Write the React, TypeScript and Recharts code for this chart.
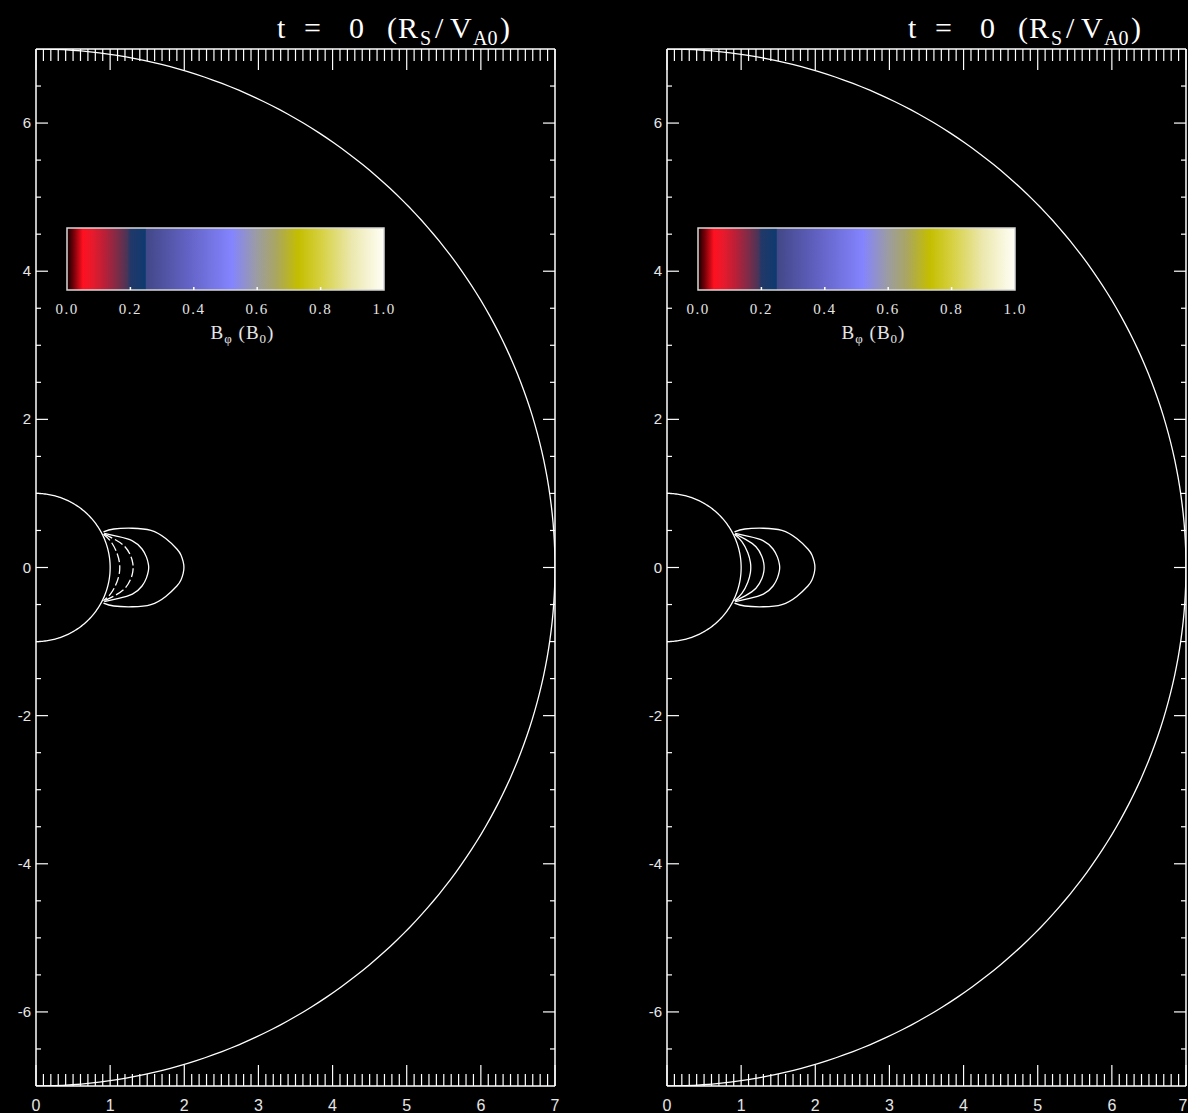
import React from 'react';
import { ComposedChart, Line, Bar, XAxis, YAxis } from 'recharts';

// axis ticks and labels
const X_MAJOR = [0, 1, 2, 3, 4, 5, 6, 7];
const X_TICK_LABELS = ['0', '1', '2', '3', '4', '5', '6', '7'];
const Y_MAJOR = [-6, -4, -2, 0, 2, 4, 6];
const Y_TICK_LABELS = ['-6', '-4', '-2', '0', '2', '4', '6'];

// radii (R_S) of the solar surface and the outer boundary
const SHELL_RADII = [1, 7];

// closed field lines above the surface, [x, y] in R_S
const LOOP_OUTER = [
  [0.91, 0.48], [1.05, 0.52], [1.3, 0.53], [1.55, 0.5], [1.75, 0.39], [1.9, 0.25], [1.955, 0.17],
  [1.985, 0.08], [1.995, 0], [1.985, -0.08], [1.955, -0.17], [1.9, -0.25], [1.75, -0.39],
  [1.55, -0.5], [1.3, -0.53], [1.05, -0.52], [0.91, -0.48],
];
const LOOP_SECOND = [
  [0.92, 0.46], [1.1, 0.42], [1.3, 0.36], [1.43, 0.25], [1.49, 0.14], [1.515, 0.05], [1.52, 0],
  [1.515, -0.05], [1.49, -0.14], [1.43, -0.25], [1.3, -0.36], [1.1, -0.42], [0.92, -0.46],
];
const LOOP_THIRD = [
  [0.92, 0.45], [1.06, 0.38], [1.2, 0.28], [1.28, 0.15], [1.305, 0.06], [1.31, 0],
  [1.305, -0.06], [1.28, -0.15], [1.2, -0.28], [1.06, -0.38], [0.92, -0.45],
];
const LOOP_INNER = [
  [0.91, 0.45], [1.01, 0.35], [1.09, 0.2], [1.125, 0.07], [1.13, 0],
  [1.125, -0.07], [1.09, -0.2], [1.01, -0.35], [0.91, -0.45],
];

// colour bar for B_phi
const COLORBAR_TICKS = [0, 0.2, 0.4, 0.6, 0.8, 1.0];
const COLORBAR_LABELS = ['0.0', '0.2', '0.4', '0.6', '0.8', '1.0'];
const COLORBAR_STOPS: [number, string][] = [
  [0.0, '#100000'],
  [0.02, '#700008'],
  [0.05, '#ff1020'],
  [0.08, '#e81a2c'],
  [0.12, '#b82038'],
  [0.16, '#7c2c48'],
  [0.19, '#4a3458'],
  [0.2, '#223868'],
  [0.247, '#0e3a70'],
  [0.25, '#424888'],
  [0.38, '#6262c4'],
  [0.52, '#8484ff'],
  [0.6, '#9c9ca2'],
  [0.66, '#aaa660'],
  [0.73, '#c4be00'],
  [0.8, '#d6d040'],
  [0.9, '#ece8b0'],
  [1.0, '#fffff6'],
];
const COLORBAR_ROW = [{ name: 'bphi', value: 1 }];

const CHART_H = 1113;
const PLOT_LEFT = 36;
const PLOT_W = 519;
const WHITE = '#ffffff';
const LABEL = '#e6e6e6';
const AXIS_LINE = { stroke: WHITE, strokeWidth: 1.5 };

const X_TICKS = Array.from({ length: 71 }, (_, i) => i / 10);
const Y_TICKS = Array.from({ length: 27 }, (_, i) => (i - 13) / 2);

const toPoints = (arr: number[][]) => arr.map(([x, y]) => ({ x, y }));

// semicircle of radius r on the x >= 0 side
const arc = (r: number) =>
  Array.from({ length: 181 }, (_, i) => {
    const a = ((90 - i) * Math.PI) / 180;
    return { x: r * Math.cos(a), y: r * Math.sin(a) };
  });

const XTick = (props: any) => {
  const { x, y, payload, side, maxX } = props;
  const v = payload.value;
  const idx = X_MAJOR.indexOf(v);
  const len = idx >= 0 ? 21 : 12;
  if (side === 'top') {
    return <line x1={x} y1={y} x2={x} y2={y + len} stroke={WHITE} strokeWidth={1.2} />;
  }
  return (
    <g>
      <line x1={x} y1={y} x2={x} y2={y - len} stroke={WHITE} strokeWidth={1.2} />
      {idx >= 0 && (
        <text x={Math.min(x, maxX)} y={y + 25} textAnchor="middle" fill={LABEL} fontSize={16}
          fontFamily="Liberation Sans">
          {X_TICK_LABELS[idx]}
        </text>
      )}
    </g>
  );
};

const YTick = (props: any) => {
  const { x, y, payload, side } = props;
  const v = payload.value;
  const idx = Y_MAJOR.indexOf(v);
  const len = idx >= 0 ? 12 : 5;
  if (side === 'right') {
    return <line x1={x} y1={y} x2={x - len} y2={y} stroke={WHITE} strokeWidth={1.2} />;
  }
  return (
    <g>
      <line x1={x} y1={y} x2={x + len} y2={y} stroke={WHITE} strokeWidth={1.2} />
      {idx >= 0 && (
        <text x={x - 5} y={y + 5} textAnchor="end" fill={LABEL} fontSize={15} fontFamily="Liberation Sans">
          {Y_TICK_LABELS[idx]}
        </text>
      )}
    </g>
  );
};

const CbTick = (props: any) => {
  const { x, y, payload, side } = props;
  const v = payload.value;
  const idx = COLORBAR_TICKS.indexOf(v);
  const inner = v > 0 && v < 1;
  if (side === 'top') {
    return inner ? <line x1={x} y1={y} x2={x} y2={y + 3} stroke={WHITE} strokeWidth={1.5} /> : <g />;
  }
  return (
    <g>
      {inner && <line x1={x} y1={y} x2={x} y2={y - 3} stroke={WHITE} strokeWidth={1.5} />}
      <text x={x} y={y + 24} textAnchor="middle" fill={LABEL} fontSize={15} letterSpacing={1.5}
        fontFamily="Liberation Serif">
        {COLORBAR_LABELS[idx]}
      </text>
    </g>
  );
};

const BphiLabel = (props: any) => {
  const vb = props.viewBox || { x: 0, y: 0, width: 0 };
  const cx = vb.x + vb.width / 2 + 17;
  return (
    <text x={cx} y={vb.y + 49} textAnchor="middle" fill={LABEL} fontSize={19} letterSpacing={1}
      fontFamily="Liberation Serif">
      B<tspan fontSize={13} dy={4}>φ</tspan>
      <tspan dy={-4}>{'  (B'}</tspan>
      <tspan fontSize={13} dy={4}>0</tspan>
      <tspan dy={-4}>)</tspan>
    </text>
  );
};

function Colorbar({ id }: { id: string }) {
  return (
    <div style={{ position: 'absolute', left: 40, top: 200 }}>
      <ComposedChart layout="vertical" width={380} height={160} data={COLORBAR_ROW}
        margin={{ top: 27, right: 36, bottom: 30, left: 27 }} barCategoryGap={0}>
        <defs>
          <linearGradient id={id} x1="0" y1="0" x2="1" y2="0">
            {COLORBAR_STOPS.map(([o, c]) => (
              <stop key={o} offset={o} stopColor={c} />
            ))}
          </linearGradient>
        </defs>
        <XAxis xAxisId="b" orientation="bottom" type="number" domain={[0, 1]} ticks={COLORBAR_TICKS}
          interval={0} height={40} tickSize={0} tickMargin={0} tickLine={false} axisLine={false}
          tick={(p: any) => <CbTick {...p} side="bottom" />} label={<BphiLabel />} />
        <XAxis xAxisId="t" orientation="top" type="number" domain={[0, 1]} ticks={COLORBAR_TICKS}
          interval={0} height={1} tickSize={0} tickMargin={0} tickLine={false} axisLine={false}
          tick={(p: any) => <CbTick {...p} side="top" />} />
        <YAxis type="category" dataKey="name" hide />
        <Bar xAxisId="b" dataKey="value" fill={`url(#${id})`} stroke="#d8d8d8" strokeWidth={1.5}
          isAnimationActive={false} />
      </ComposedChart>
    </div>
  );
}

function Title({ width }: { width: number }) {
  const sub = { fontSize: 20 };
  return (
    <svg width={width} height={49} style={{ position: 'absolute', left: 0, top: 0 }}>
      <g fill={WHITE} fontFamily="Liberation Serif" fontSize={30}>
        <text x={277} y={38}>t</text>
        <text x={304} y={38}>=</text>
        <text x={349} y={38}>0</text>
        <text x={387} y={38}>(</text>
        <text x={398} y={38}>R</text>
        <text x={420} y={45} {...sub}>S</text>
        <text x={435} y={38}>/</text>
        <text x={450} y={38}>V</text>
        <text x={473} y={45} {...sub}>A0</text>
        <text x={500} y={38}>)</text>
      </g>
    </svg>
  );
}

const LOOPS = [LOOP_OUTER, LOOP_SECOND, LOOP_THIRD, LOOP_INNER];

function Panel({ left, width, broken, id }: { left: number; width: number; broken: boolean; id: string }) {
  const rightW = width - PLOT_LEFT - PLOT_W;
  return (
    <div style={{ position: 'absolute', left, top: 0, width, height: CHART_H }}>
      <ComposedChart width={width} height={CHART_H} margin={{ top: 0, right: 0, bottom: 0, left: 0 }}>
        <XAxis xAxisId="bottom" orientation="bottom" type="number" dataKey="x" domain={[0, 7]}
          ticks={X_TICKS} interval={0} height={27} tickSize={0} tickMargin={0} tickLine={false}
          axisLine={AXIS_LINE} allowDataOverflow
          tick={(p: any) => <XTick {...p} side="bottom" maxX={width - 5} />} />
        <XAxis xAxisId="top" orientation="top" type="number" dataKey="x" domain={[0, 7]}
          ticks={X_TICKS} interval={0} height={49} tickSize={0} tickMargin={0} tickLine={false}
          axisLine={AXIS_LINE} allowDataOverflow tick={(p: any) => <XTick {...p} side="top" />} />
        <YAxis yAxisId="left" orientation="left" type="number" domain={[-7, 7]}
          ticks={Y_TICKS} interval={0} width={PLOT_LEFT} tickSize={0} tickMargin={0} tickLine={false}
          axisLine={AXIS_LINE} allowDataOverflow tick={(p: any) => <YTick {...p} side="left" />} />
        <YAxis yAxisId="right" orientation="right" type="number" domain={[-7, 7]}
          ticks={Y_TICKS} interval={0} width={rightW} tickSize={0} tickMargin={0} tickLine={false}
          axisLine={AXIS_LINE} allowDataOverflow tick={(p: any) => <YTick {...p} side="right" />} />
        {SHELL_RADII.map((r) => (
          <Line key={`shell-${r}`} xAxisId="bottom" yAxisId="left" data={arc(r)} dataKey="y"
            type="linear" dot={false} stroke={WHITE} strokeWidth={1.3} isAnimationActive={false} />
        ))}
        {LOOPS.map((loop, i) => (
          <Line key={`loop-${i}`} xAxisId="bottom" yAxisId="left" data={toPoints(loop)} dataKey="y"
            type="natural" dot={false} stroke={WHITE} strokeWidth={1.3}
            strokeDasharray={broken && i >= 2 ? '9 3' : undefined} isAnimationActive={false} />
        ))}
      </ComposedChart>
      <Colorbar id={id} />
      <Title width={width} />
    </div>
  );
}

export default function App() {
  return (
    <div style={{ position: 'absolute', left: 0, top: 0, width: 1188, height: 1113, background: '#000', overflow: 'hidden' }}>
      <Panel left={0} width={575} broken id="bphi-left" />
      <Panel left={631} width={557} broken={false} id="bphi-right" />
    </div>
  );
}
